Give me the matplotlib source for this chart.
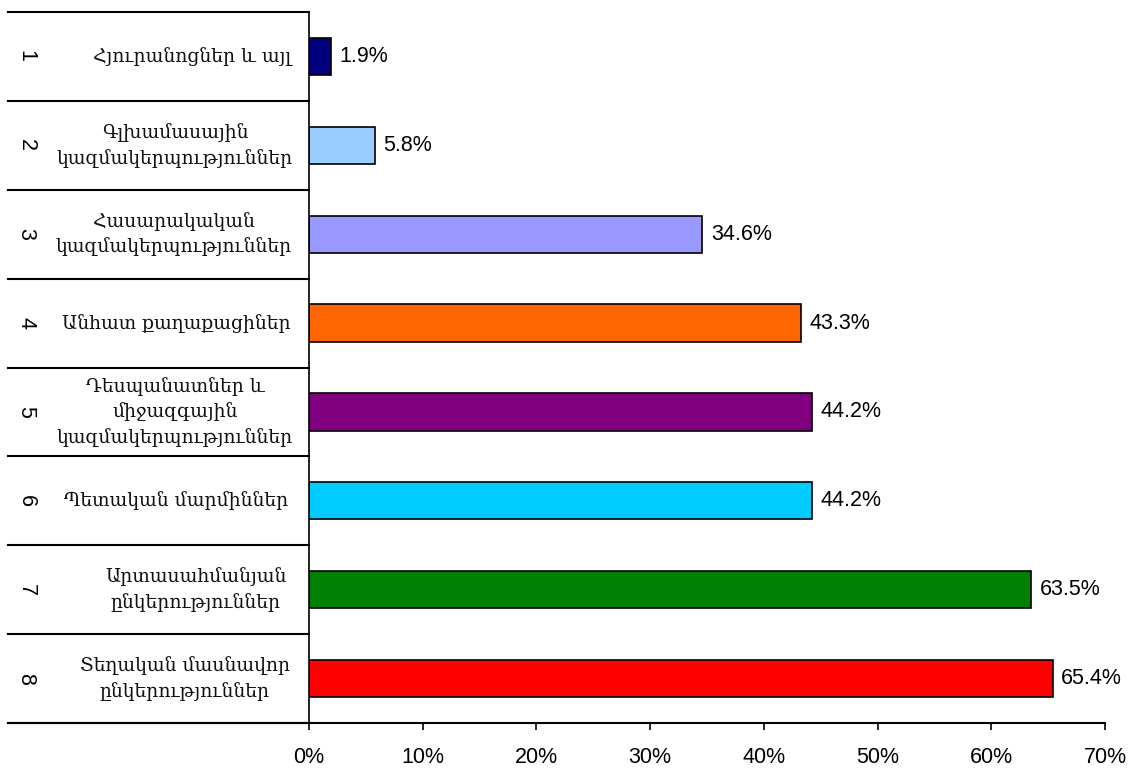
import matplotlib.pyplot as plt
from matplotlib.ticker import FuncFormatter

numbers = ["1", "2", "3", "4", "5", "6", "7", "8"]
categories = [
    "Հյուրանոցներ և այլ",
    "Գլխամասային\nկազմակերպություններ",
    "Հասարակական\nկազմակերպություններ",
    "Անհատ քաղաքացիներ",
    "Դեսպանատներ և\nմիջազգային\nկազմակերպություններ",
    "Պետական մարմիններ",
    "Արտասահմանյան\nընկերություններ",
    "Տեղական մասնավոր\nընկերություններ",
]
values = [1.9, 5.8, 34.6, 43.3, 44.2, 44.2, 63.5, 65.4]
colors = ["#000080", "#99CCFF", "#9999FF", "#FF6600",
          "#800080", "#00CCFF", "#008000", "#FF0000"]
# horizontal centre of each label in the left table (pixels)
label_cx = [192, 175, 174, 176, 175, 176, 196, 185]

W, H = 1133, 769
X0, X1 = 309, 1105
fig = plt.figure(figsize=(W / 100, H / 100), dpi=100)
ax = fig.add_axes([X0 / W, 1 - 723 / H, (X1 - X0) / W, (723 - 12) / H])

ypos = list(range(len(values)))
ax.barh(ypos, values, height=0.42, color=colors, edgecolor="black", linewidth=1.2)

for y, v in zip(ypos, values):
    ax.text(v + 0.75, y, f"{v}%", va="center", ha="left", fontsize=15.5,
            family="Liberation Sans")

ax.set_xlim(0, 70)
ax.set_ylim(len(values) - 0.5, -0.5)
ax.set_xticks(range(0, 71, 10))
ax.xaxis.set_major_formatter(FuncFormatter(lambda x, p: f"{int(x)}%"))
ax.tick_params(axis="x", direction="out", length=5, width=1.2, labelsize=15.5, pad=12.5)
for lab in ax.get_xticklabels():
    lab.set_family("Liberation Sans")
ax.set_yticks([])
ax.spines["top"].set_visible(False)
ax.spines["right"].set_visible(False)
ax.spines["bottom"].set_visible(False)
ax.spines["left"].set_linewidth(1.2)

# table on the left: row separators, numbers and labels
tr = ax.get_yaxis_transform()
px = lambda p: (p - X0) / (X1 - X0)
for b in [i - 0.5 for i in range(len(values) + 1)]:
    ax.plot([px(8), 0], [b, b], color="black", lw=1.5, transform=tr, clip_on=False)
ax.plot([px(8), 1], [len(values) - 0.5] * 2, color="black", lw=1.5,
        transform=tr, clip_on=False)

for y, n, c, cx in zip(ypos, numbers, categories, label_cx):
    ax.text(px(26), y, n, rotation=-90, ha="center", va="center", fontsize=15.5,
            family="Liberation Sans", transform=tr)
    ax.text(px(cx), y, c, ha="center", va="center", fontsize=13.5,
            family="DejaVu Serif", linespacing=1.45, color="#111111", transform=tr)

fig.savefig("out.png", dpi=100)
